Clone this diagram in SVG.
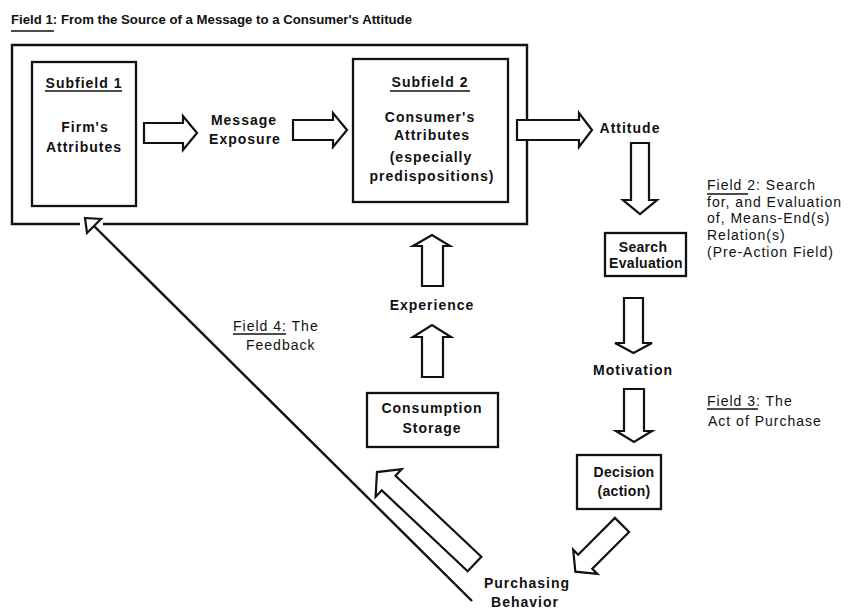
<svg xmlns="http://www.w3.org/2000/svg" width="857" height="609" viewBox="0 0 857 609">
  <style>
    .t { font-family: "Liberation Sans", Arial, Helvetica, sans-serif; font-size: 14px; letter-spacing: 1px; fill: #111; }
    .b { font-weight: bold; }
    .m { text-anchor: middle; }
    .n { letter-spacing: 0.3px; }
    .box { fill: #fff; stroke: #111; stroke-width: 2.3; }
    .ul { stroke: #111; stroke-width: 1.6; }
    .arr { fill: #fff; stroke: #111; stroke-width: 2.2; stroke-linejoin: miter; }
    .line { fill: none; stroke: #111; stroke-width: 2.4; }
  </style>
  <rect width="857" height="609" fill="#fff"/>

  <!-- Field 1 title -->
  <g id="field1-title">
    <text class="t b" x="11" y="24" style="font-size:13px;letter-spacing:0" textLength="401" lengthAdjust="spacingAndGlyphs">Field 1: From the Source of a Message to a Consumer's Attitude</text>
    <line class="ul" x1="11" y1="31" x2="54" y2="31"/>
  </g>

  <!-- Field 1 container, open at the bottom where the feedback arrow enters -->
  <g id="field1">
    <path d="M80,224 L12,224 L12,45 L527,45 L527,224 L103,224" fill="none" stroke="#111" stroke-width="2.4"/>
  </g>

  <g id="subfield1">
    <rect class="box" x="32" y="62" width="104" height="144"/>
    <text class="t b m" x="84" y="88">Subfield 1</text>
    <line class="ul" x1="45" y1="91" x2="122" y2="91"/>
    <text class="t b m" x="85" y="132">Firm's</text>
    <text class="t b m" x="84" y="152">Attributes</text>
  </g>

  <g id="message-exposure">
    <text class="t b m" x="244" y="125">Message</text>
    <text class="t b m" x="245" y="144">Exposure</text>
  </g>

  <g id="subfield2">
    <rect class="box" x="353" y="59" width="155" height="143"/>
    <text class="t b m" x="430" y="87">Subfield 2</text>
    <line class="ul" x1="390" y1="91" x2="470" y2="91"/>
    <text class="t b m" x="430" y="122">Consumer's</text>
    <text class="t b m" x="432" y="140">Attributes</text>
    <text class="t b m" x="431" y="162">(especially</text>
    <text class="t b m" x="432" y="181">predispositions)</text>
  </g>

  <g id="attitude">
    <text class="t b m" x="630" y="133">Attitude</text>
  </g>

  <g id="search-evaluation">
    <rect class="box" x="605" y="233" width="81" height="43"/>
    <text class="t b m n" x="643" y="252">Search</text>
    <text class="t b m n" x="646" y="268">Evaluation</text>
  </g>

  <g id="field2-label">
    <text class="t" x="707" y="190">Field 2: Search</text>
    <line class="ul" x1="707" y1="194" x2="748" y2="194"/>
    <text class="t" x="707" y="207">for, and Evaluation</text>
    <text class="t" x="707" y="223">of, Means-End(s)</text>
    <text class="t" x="707" y="240">Relation(s)</text>
    <text class="t" x="707" y="257">(Pre-Action Field)</text>
  </g>

  <g id="motivation">
    <text class="t b m" x="633" y="375">Motivation</text>
  </g>

  <g id="field3-label">
    <text class="t" x="707" y="406">Field 3: The</text>
    <line class="ul" x1="707" y1="409" x2="758" y2="409"/>
    <text class="t" x="708" y="426">Act of Purchase</text>
  </g>

  <g id="decision">
    <rect class="box" x="577" y="455" width="84" height="54"/>
    <text class="t b m n" x="624" y="477">Decision</text>
    <text class="t b m n" x="624" y="496">(action)</text>
  </g>

  <g id="purchasing-behavior">
    <text class="t b m" x="527" y="588">Purchasing</text>
    <text class="t b m" x="525" y="607">Behavior</text>
  </g>

  <g id="consumption-storage">
    <rect class="box" x="367" y="393" width="131" height="54"/>
    <text class="t b m" x="432" y="413">Consumption</text>
    <text class="t b m" x="432" y="433">Storage</text>
  </g>

  <g id="experience">
    <text class="t b m" x="432" y="310">Experience</text>
  </g>

  <g id="field4-label">
    <text class="t" x="233" y="331">Field 4: The</text>
    <line class="ul" x1="233" y1="334" x2="286" y2="334"/>
    <text class="t" x="246" y="350">Feedback</text>
  </g>

  <g id="connectors">
    <!-- horizontal block arrows -->
    <path class="arr" d="M144,123 L183,123 L183,116 L197,133 L183,150 L183,143 L144,143 Z"/>
    <path class="arr" d="M293,120 L333,120 L333,113 L347,130 L333,147 L333,140 L293,140 Z"/>
    <path class="arr" d="M517,120 L579,120 L579,113 L592,130 L579,147 L579,140 L517,140 Z"/>
    <!-- downward block arrows on the right -->
    <path class="arr" d="M631,143 L649,143 L649,200 L657,200 L640,214 L623,200 L631,200 Z"/>
    <path class="arr" d="M624,298 L643,298 L643,343 L652,343 L633.5,353 L615,343 L624,343 Z"/>
    <path class="arr" d="M624,389 L644,389 L644,431 L652,431 L634,442 L616,431 L624,431 Z"/>
    <!-- upward block arrows through Experience -->
    <path class="arr" d="M422,286 L443,286 L443,246 L450,246 L432,235 L413,246 L422,246 Z"/>
    <path class="arr" d="M422,377 L443,377 L443,337 L451,337 L432,325 L413,337 L422,337 Z"/>
    <!-- Decision to Purchasing Behavior -->
    <path class="arr" transform="translate(622,525) rotate(135)" d="M0,-10 L52,-10 L52,-17 L66,0 L52,17 L52,10 L0,10 Z"/>
    <!-- Purchasing Behavior to Consumption Storage -->
    <path class="arr" transform="translate(474.5,564) rotate(-136.7)" d="M0,-10 L118,-10 L118,-19 L134,0 L118,19 L118,10 L0,10 Z"/>
    <!-- feedback line with open arrowhead into Field 1 -->
    <line class="line" x1="94" y1="226" x2="472" y2="601"/>
    <path class="arr" d="M85,218 L101,219 L87,233 Z"/>
  </g>
</svg>
